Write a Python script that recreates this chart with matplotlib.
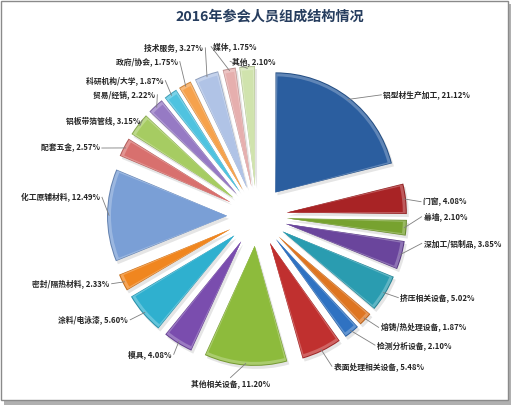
import numpy as np
import matplotlib
matplotlib.use("Agg")
import matplotlib.pyplot as plt
import matplotlib.colors as mcolors
from matplotlib.patches import Wedge, Rectangle

plt.rcParams['font.family'] = ['Noto Sans CJK SC', 'DejaVu Sans']

title = "2016年参会人员组成结构情况"
categories = ["铝型材生产加工", "门窗", "幕墙", "深加工/铝制品", "挤压相关设备",
              "熔铸/热处理设备", "检测分析设备", "表面处理相关设备", "其他相关设备",
              "模具", "涂料/电泳漆", "密封/隔热材料", "化工原辅材料", "配套五金",
              "铝板带箔管线", "贸易/经销", "科研机构/大学", "政府/协会", "技术服务",
              "媒体", "其他"]
shares = [21.12, 4.08, 2.10, 3.85, 5.02, 1.87, 2.10, 5.48, 11.20, 4.08, 5.60,
          2.33, 12.49, 2.57, 3.15, 2.22, 1.87, 1.75, 3.27, 1.75, 2.10]

colors = ["#2B5E9F", "#A82325", "#77A22F", "#6A459C", "#2A9CB0", "#DE7521",
          "#2F72C2", "#C0302F", "#8DBB3C", "#7A4DAE", "#2FB0CF", "#F0861F",
          "#7A9FD6", "#D8706E", "#A6CC62", "#967AC4", "#4FC3E0", "#F6A24C",
          "#B0C3E6", "#E6AFAE", "#D0E3AD"]

# label offsets (px) from each wedge's outer point, and alignment
label_dx = [34, 17, 17, 22, 15, 15, 25, 12, -15, -6, -15, -13, -7, -24, 2, 0, -7, -7, -3, -16, -15]
label_dy = [-3, 3, -11, -12, 4, 8, 13, 15, 18, 11, 6, 1, -18, 1, -4, -11, -13, -23, -27, -22, -5]
label_ha = ["left"] * 8 + ["center"] + ["right"] * 10 + ["left", "left"]

W, H = 514, 405
cx, cy = 257, H - 216
radius = 120
explode = 30

fig = plt.figure(figsize=(W / 100, H / 100), dpi=100)
ax = fig.add_axes([0, 0, 1, 1])

# frame with shadow
fig.patches.append(Rectangle((4 / W, 0), 507 / W, 401 / H, transform=fig.transFigure,
                             facecolor="#b0b0b0", edgecolor="none", zorder=-2))
fig.patches.append(Rectangle((1 / W, 5 / H), 507 / W, 399 / H, transform=fig.transFigure,
                             facecolor="white", edgecolor="#8a8a8a", lw=1.0, zorder=-1))

wedges, _ = ax.pie(shares, colors=colors, radius=radius, center=(cx, cy),
                   startangle=90, counterclock=False,
                   explode=[explode] * len(shares),
                   wedgeprops=dict(edgecolor="none"))

for w, col, name, v, dx, dy, ha in zip(wedges, colors, categories, shares,
                                       label_dx, label_dy, label_ha):
    t1, t2 = w.theta1, w.theta2
    wx, wy = w.center
    base = np.array(mcolors.to_rgb(col))
    dark = base * 0.82
    light = base + (1 - base) * 0.25
    # shadow
    ax.add_patch(Wedge((wx + 2, wy - 3), radius, t1, t2, facecolor="#000000",
                       alpha=0.10, edgecolor="none", zorder=0))
    w.set_facecolor(dark)
    w.set_zorder(1)
    # body and soft bevel rim
    ax.add_patch(Wedge((wx, wy), radius - 1, t1 + 0.3, t2 - 0.3, facecolor=light,
                       edgecolor="none", zorder=2))
    ax.add_patch(Wedge((wx, wy), radius - 4, t1 + 1.0, t2 - 1.0, facecolor=col,
                       edgecolor="none", zorder=3))
    # label
    tm = np.deg2rad((t1 + t2) / 2)
    ox = wx + radius * np.cos(tm)
    oy = wy + radius * np.sin(tm)
    lx, ly = ox + dx, oy - dy
    if ha == "left":
        ex, ey = lx - 2, ly
    elif ha == "right":
        ex, ey = lx + 2, ly
    else:
        ex, ey = lx, ly + 6
    ax.plot([ox - 2 * np.cos(tm), ex], [oy - 2 * np.sin(tm), ey], color="#7f7f7f",
            lw=0.6, zorder=4)
    ax.text(lx, ly, f"{name}, {v:.2f}%", ha=ha, va="center", fontsize=5.6,
            fontweight="bold", color="#262626", zorder=5)

ax.text(270, H - 17, title, ha="center", va="center", fontsize=10.2,
        fontweight="bold", color="#263d5e")

ax.set_xlim(0, W)
ax.set_ylim(0, H)
ax.set_aspect("equal")
ax.axis("off")

fig.savefig("out.png", dpi=100)
